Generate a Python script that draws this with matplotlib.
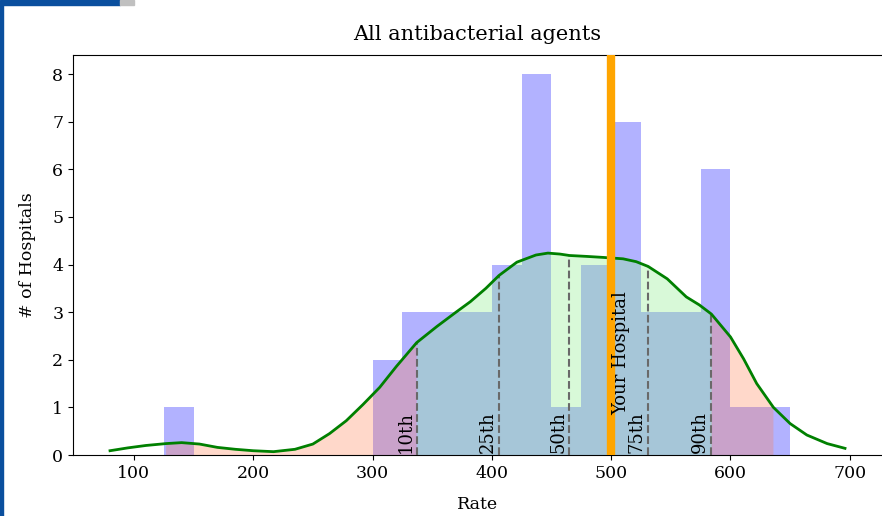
import numpy as np
import matplotlib.pyplot as plt
from matplotlib.patches import Rectangle

# histogram of hospital rates (bins of 25)
bin_edges = [125, 150, 175, 200, 225, 250, 275, 300, 325, 350, 375,
             400, 425, 450, 475, 500, 525, 550, 575, 600, 625, 650]
counts = [1, 0, 0, 0, 0, 0, 0, 2, 3, 3, 3, 4, 8, 1, 4, 7, 3, 3, 6, 1, 1]

# density curve, scaled to counts
kde_x = [80, 95, 110, 127, 140, 155, 170, 185, 200, 217, 235, 250, 264, 278,
         292, 306, 320, 337, 354, 370, 382, 395, 406, 421, 437, 447, 457,
         465, 480, 493, 510, 521, 531, 547, 563, 574, 584, 600, 611, 622,
         636, 650, 664, 681, 696]
kde_y = [0.09, 0.15, 0.20, 0.24, 0.26, 0.23, 0.16, 0.12, 0.09, 0.07, 0.12,
         0.23, 0.45, 0.72, 1.06, 1.42, 1.86, 2.36, 2.70, 3.00, 3.22, 3.50,
         3.77, 4.05, 4.20, 4.24, 4.22, 4.19, 4.17, 4.15, 4.12, 4.06, 3.96,
         3.70, 3.32, 3.15, 2.96, 2.48, 2.02, 1.50, 1.00, 0.66, 0.42, 0.24,
         0.14]

pct_labels = ['10th', '25th', '50th', '75th', '90th']
pct_values = [337, 406, 465, 531, 584]
data_min, data_max = 127, 636
your_rate = 500

plt.rcParams['font.family'] = ['DejaVu Serif']

fig = plt.figure(figsize=(8.82, 5.16), dpi=100)
ax = fig.add_axes([0.0828, 0.1182, 0.9172, 0.7752])

kx = np.array(kde_x)
ky = np.array(kde_y)

widths = np.diff(bin_edges)
ax.bar(bin_edges[:-1], counts, width=widths, align='edge',
       color='blue', alpha=0.3, linewidth=0, zorder=1)

# shade tails and middle under the curve
tails = ((kx >= data_min) & (kx <= pct_values[0])) | \
        ((kx >= pct_values[-1]) & (kx <= data_max))
middle = (kx >= pct_values[0]) & (kx <= pct_values[-1])
ax.fill_between(kx, 0, ky, where=tails, color='coral', alpha=0.3,
                linewidth=0, zorder=2)
ax.fill_between(kx, 0, ky, where=middle, color='lightgreen', alpha=0.35,
                linewidth=0, zorder=2)

for lab, p in zip(pct_labels, pct_values):
    top = ky[kx == p][0]
    ax.vlines(p, 0, top, colors='dimgray', linestyles='--', lw=1.5, zorder=3)
    ax.text(p - 2, 0.05, lab, rotation=90, ha='right', va='bottom',
            fontsize=13, zorder=5)

ax.plot(kx, ky, color='green', lw=2, zorder=4)

ax.axvline(your_rate, color='orange', lw=6, zorder=5)
ax.text(your_rate + 1, 0.84, 'Your Hospital', rotation=90, ha='left',
        va='bottom', fontsize=13, zorder=6)

ax.set_xlim(49, 727)
ax.set_ylim(0, 8.4)
ax.set_xticks([100, 200, 300, 400, 500, 600, 700])
ax.set_yticks(range(9))
ax.tick_params(labelsize=12.5)
ax.spines['right'].set_visible(False)
ax.set_xlabel('Rate', fontsize=12.5, labelpad=10)
ax.set_ylabel('# of Hospitals', fontsize=12.5, labelpad=12)
ax.set_title('All antibacterial agents', fontsize=15, pad=11)

# page frame
fig.patches.append(Rectangle((0, 0), 3 / 882, 511 / 516, transform=fig.transFigure,
                             color='#0a4f9e', zorder=10))
fig.patches.append(Rectangle((0, 511 / 516), 120 / 882, 5 / 516,
                             transform=fig.transFigure, color='#0a4f9e', zorder=10))
fig.patches.append(Rectangle((120 / 882, 511 / 516), 14 / 882, 5 / 516,
                             transform=fig.transFigure, color='#c0c0c0', zorder=10))

fig.savefig('out.png', dpi=100)
